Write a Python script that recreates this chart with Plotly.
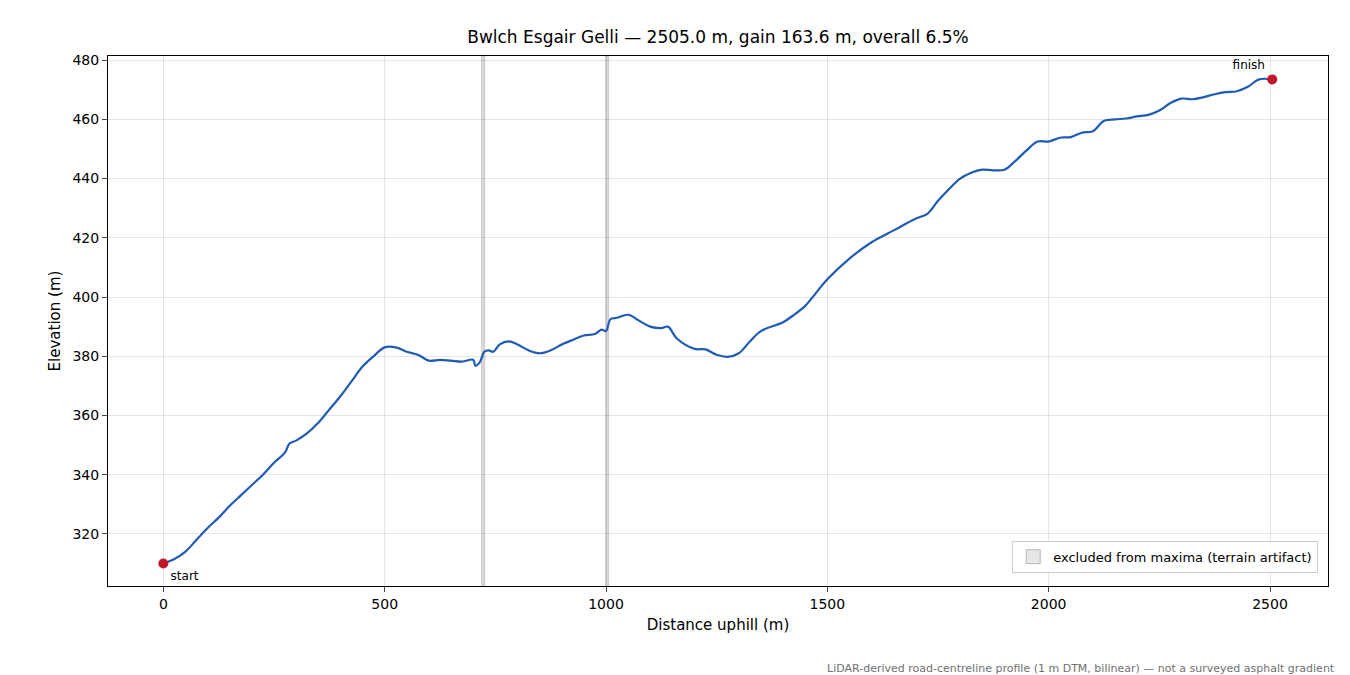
import plotly.graph_objects as go

# profile
dist = [0, 25, 50, 75, 100, 125, 150, 175, 200, 225, 250, 275, 285, 300, 325, 350, 375, 400,
        425, 450, 475, 500, 525, 550, 575, 600, 625, 650, 675, 700, 705, 715, 725, 735, 745,
        760, 780, 800, 825, 850, 875, 900, 925, 950, 975, 990, 1000, 1010, 1025, 1050, 1075,
        1100, 1125, 1140, 1160, 1200, 1225, 1250, 1275, 1300, 1325, 1350, 1400, 1425, 1450,
        1475, 1500, 1550, 1600, 1650, 1700, 1725, 1750, 1775, 1800, 1825, 1850, 1875, 1900,
        1925, 1950, 1975, 2000, 2025, 2050, 2075, 2100, 2125, 2150, 2175, 2200, 2225, 2250,
        2275, 2300, 2325, 2350, 2375, 2400, 2425, 2450, 2475, 2505]
elev = [310.0, 311.5, 314.0, 318.0, 322.0, 325.5, 329.5, 333.0, 336.5, 340.0, 344.0, 347.5, 350.5,
        351.5, 354.0, 357.5, 362.0, 366.5, 371.5, 376.5, 380.0, 383.0, 383.0, 381.5, 380.5,
        378.5, 378.8, 378.5, 378.2, 378.8, 376.8, 378.0, 381.5, 382.0, 381.5, 384.0, 385.0,
        384.0, 382.0, 381.0, 382.0, 384.0, 385.5, 387.0, 387.5, 389.0, 388.5, 392.5, 393.0,
        394.0, 392.0, 390.0, 389.5, 390.0, 386.0, 382.5, 382.3, 380.5, 379.8, 381.0, 385.0,
        388.5, 391.5, 394.0, 397.0, 401.5, 406.0, 413.0, 418.5, 422.5, 426.5, 428.0, 432.5,
        436.5, 440.0, 442.0, 443.0, 442.8, 443.0, 446.0, 449.5, 452.5, 452.5, 453.8, 454.0,
        455.5, 456.0, 459.5, 460.0, 460.3, 461.0, 461.5, 463.0, 465.5, 467.0, 466.8, 467.5,
        468.5, 469.2, 469.5, 471.0, 473.5, 473.5]
excluded = [(719, 726), (999, 1006)]

title = "Bwlch Esgair Gelli \u2014 2505.0 m, gain 163.6 m, overall 6.5%"
note = "LiDAR-derived road-centreline profile (1 m DTM, bilinear) \u2014 not a surveyed asphalt gradient"

fig = go.Figure()

for a, b in excluded:
    fig.add_vrect(x0=a, x1=b, fillcolor="rgba(128,128,128,0.3)", line_width=0.6,
                  line_color="rgba(128,128,128,0.5)", layer="below")
fig.add_trace(go.Scatter(x=[None], y=[None], mode="markers", name="excluded from maxima (terrain artifact)",
                         marker=dict(symbol="square", size=14, color="rgba(128,128,128,0.2)",
                                     line=dict(color="rgba(128,128,128,0.5)", width=1))))

fig.add_trace(go.Scatter(x=dist, y=elev, mode="lines", line=dict(color="#1f5bb5", width=2.2),
                         line_shape="spline", showlegend=False))
fig.add_trace(go.Scatter(x=[dist[0], dist[-1]], y=[elev[0], elev[-1]], mode="markers+text",
                         marker=dict(color="#c0182a", size=10), text=["start", "finish"],
                         textposition=["bottom right", "top left"], textfont=dict(size=12),
                         showlegend=False))

fig.add_annotation(text=note, xref="paper", yref="paper", x=1.0075, y=-0.14, xanchor="right",
                   yanchor="top", showarrow=False, font=dict(size=11, color="#707070"))

axis = dict(showline=True, linecolor="black", mirror=True, ticks="outside", ticklen=5,
            showgrid=True, gridcolor="rgba(0,0,0,0.1)", zeroline=False, tickfont=dict(size=14))
fig.update_layout(
    width=1342, height=667, template="plotly_white",
    font=dict(family="DejaVu Sans", color="black"),
    title=dict(text=title, x=0.5, xref="paper", xanchor="center", y=0.965, font=dict(size=17)),
    margin=dict(l=100, r=22, t=48, b=89),
    xaxis=dict(axis, range=[-125, 2631], tickvals=[0, 500, 1000, 1500, 2000, 2500],
               title=dict(text="Distance uphill (m)", font=dict(size=15), standoff=8)),
    yaxis=dict(axis, range=[302.4, 481.4], tickvals=[320, 340, 360, 380, 400, 420, 440, 460, 480],
               title=dict(text="Elevation (m)", font=dict(size=15), standoff=8)),
    legend=dict(x=0.992, y=0.025, xanchor="right", yanchor="bottom", bgcolor="white",
                bordercolor="#cccccc", borderwidth=1, font=dict(size=13)),
)

fig.write_html("out.html")
